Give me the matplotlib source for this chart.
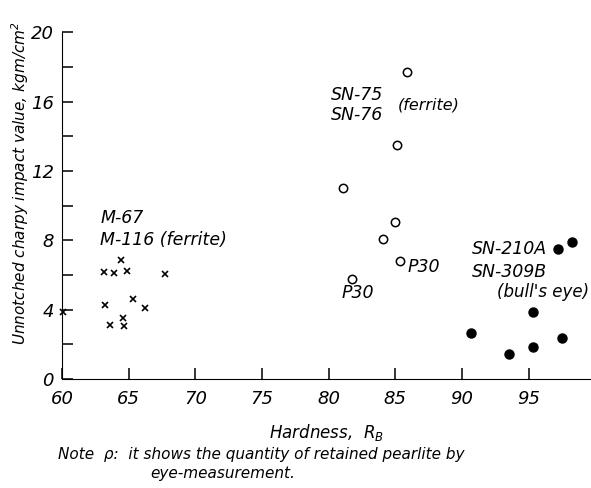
import matplotlib.pyplot as plt
import numpy as np

# Ferrite, M-67 / M-116 (crosses)
m_hard = [64.4, 63.15, 63.9, 64.85, 67.75, 65.3, 63.2, 66.2, 63.6, 64.55, 64.65, 60.05]
m_impact = [6.85, 6.2, 6.1, 6.25, 6.05, 4.65, 4.25, 4.1, 3.1, 3.5, 3.05, 3.85]

# Ferrite, SN-75 / SN-76 (open circles)
sn_hard = [85.85, 85.1, 81.1, 84.95, 84.05, 85.35, 81.75]
sn_impact = [17.7, 13.5, 11.0, 9.05, 8.1, 6.8, 5.75]

# Bull's eye, SN-210A / SN-309B (filled circles)
be_hard = [97.2, 98.3, 95.35, 90.7, 97.55, 95.35, 93.5]
be_impact = [7.5, 7.9, 3.9, 2.65, 2.35, 1.85, 1.45]

x_ticks = [60, 65, 70, 75, 80, 85, 90, 95]
x_tick_labels = ["60", "65", "70", "75", "80", "85", "90", "95"]
y_ticks = [0, 4, 8, 12, 16, 20]

plt.rcParams['font.family'] = ['DejaVu Sans']
plt.rcParams['font.style'] = 'italic'

fig = plt.figure(figsize=(5.91, 4.88), dpi=100)
ax = fig.add_axes([0.105, 0.223, 0.893, 0.711])

ax.plot(m_hard, m_impact, 'x', color='black', ms=5, mew=1.2, clip_on=False)
ax.plot(sn_hard, sn_impact, 'o', mfc='white', mec='black', ms=6, mew=1.1)
ax.plot(be_hard, be_impact, 'o', color='black', ms=6.5)

ax.set_xlim(60, 99.6)
ax.set_ylim(0, 20)
ax.spines['top'].set_visible(False)
ax.spines['right'].set_visible(False)
ax.spines['left'].set_bounds(0, 20)

ax.set_xticks(x_ticks)
ax.set_xticklabels(x_tick_labels)
ax.set_yticks(y_ticks)
ax.set_yticks(np.arange(2, 20, 4), minor=True)
ax.tick_params(axis='both', direction='in', length=8, width=1.1, labelsize=13)
ax.tick_params(axis='y', which='minor', direction='in', length=8, width=1.1)
ax.tick_params(axis='x', pad=8)
ax.tick_params(axis='y', pad=6)

ax.set_xlabel(r"Hardness,  $R_B$", fontsize=12, labelpad=10)
ax.set_ylabel(r"Unnotched charpy impact value, kgm/cm$^2$", fontsize=11)
ax.yaxis.set_label_coords(-0.058, 0.565)

ax.text(62.85, 9.3, "M-67", fontsize=12.5, va='center')
ax.text(62.85, 8.0, "M-116 (ferrite)", fontsize=12.5, va='center')
ax.text(80.2, 16.4, "SN-75", fontsize=12.5, va='center')
ax.text(80.2, 15.2, "SN-76", fontsize=12.5, va='center')
ax.text(85.2, 15.8, "(ferrite)", fontsize=11.5, va='center')
ax.text(85.95, 6.45, "P30", fontsize=12.5, va='center')
ax.text(81.0, 4.95, "P30", fontsize=12.5, va='center')
ax.text(90.75, 7.5, "SN-210A", fontsize=12.5, va='center')
ax.text(90.75, 6.2, "SN-309B", fontsize=12.5, va='center')
ax.text(92.6, 5.05, "(bull's eye)", fontsize=12, va='center')

fig.text(0.098, 0.06, "Note  \u03c1:  it shows the quantity of retained pearlite by", fontsize=11)
fig.text(0.255, 0.02, "eye-measurement.", fontsize=11)

plt.savefig("out.png", dpi=100)
